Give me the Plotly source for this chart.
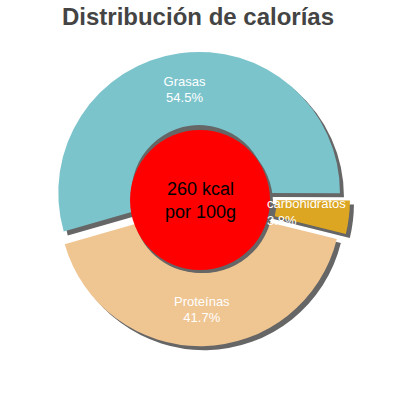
import plotly.graph_objects as go

# calorie split per 100 g
labels = ["Grasas", "Proteínas", "carbohidratos"]
values = [54.5, 41.7, 3.8]
colors = ["#7cc4cc", "#efc592", "#dca622"]
pulls = [0.045, 0.045, 0.065]

kcal_text = "260 kcal<br>por 100g"
title_text = "Distribución de calorías"

SHADOW = "#666666"
FONT = "Liberation Sans, Arial, sans-serif"
ROTATION = -106  # puts the start of "Grasas" at 3 o'clock, going counter-clockwise

fig = go.Figure()

# drop shadow of the ring, a few px down/right
fig.add_trace(go.Pie(
    labels=labels, values=values, sort=False,
    direction="counterclockwise", rotation=ROTATION,
    pull=pulls, textinfo="none", hoverinfo="skip",
    marker=dict(colors=[SHADOW] * len(values), line=dict(width=0)),
    domain=dict(x=[0.135, 0.885], y=[0.1175, 0.8675]),
))

# the ring itself; the tiny slice gets its label as an annotation so it can overflow
fig.add_trace(go.Pie(
    labels=labels, values=values, sort=False,
    direction="counterclockwise", rotation=ROTATION,
    pull=pulls, hole=0.48,
    textinfo="label+percent", textposition=["inside", "inside", "none"],
    insidetextorientation="horizontal",
    textfont=dict(family=FONT, size=13, color="white"),
    marker=dict(colors=colors, line=dict(width=0)),
    domain=dict(x=[0.125, 0.875], y=[0.1275, 0.8775]),
))

# red centre disc + its shadow
fig.add_trace(go.Pie(
    values=[1], textinfo="none", hoverinfo="skip", sort=False,
    marker=dict(colors=[SHADOW], line=dict(width=0)),
    domain=dict(x=[0.3325, 0.6825], y=[0.3175, 0.6675]),
))
fig.add_trace(go.Pie(
    values=[1], textinfo="none", hoverinfo="skip", sort=False,
    marker=dict(colors=["#ff0000"], line=dict(width=0)),
    domain=dict(x=[0.325, 0.675], y=[0.325, 0.675]),
))

fig.add_annotation(
    text=kcal_text, x=0.5, y=0.5, xref="paper", yref="paper",
    showarrow=False,
    font=dict(family=FONT, size=18, color="black"),
)

small_pct = values[2] / sum(values) * 100
fig.add_annotation(
    text=f"{labels[2]}<br>{small_pct:.1f}%", x=0.6625, y=0.47,
    xref="paper", yref="paper", xanchor="left", yanchor="middle", align="left",
    showarrow=False,
    font=dict(family=FONT, size=13, color="white"),
)

fig.update_layout(
    width=400, height=400,
    margin=dict(l=0, r=0, t=0, b=0),
    showlegend=False,
    paper_bgcolor="white",
    uniformtext=dict(minsize=13, mode="show"),
    title=dict(
        text="<b>" + title_text + "</b>",
        x=0.495, xanchor="center", y=0.9575, yanchor="middle",
        font=dict(family=FONT, size=24, color="#444444"),
    ),
)

# default body margin would push the 400px figure 8px off the window
fig.write_html(
    "out.html",
    config={"displayModeBar": False},
    post_script="document.body.style.margin = '0';",
)
